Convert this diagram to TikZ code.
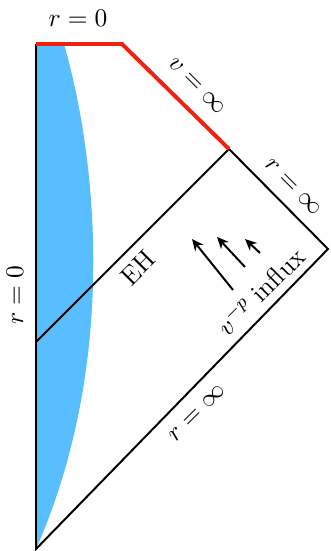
\documentclass[tikz,border=0pt]{standalone}
\usetikzlibrary{arrows.meta}
\definecolor{skyb}{RGB}{88,190,255}
\definecolor{redl}{RGB}{238,34,17}
\begin{document}
\begin{tikzpicture}[x=0.43pt,y=-0.43pt,
  bline/.style={black,line width=0.85pt},
  rline/.style={redl,line width=1.7pt},
  lbl/.style={inner sep=1pt,font=\fontsize{11.3pt}{13pt}\selectfont},
  flux/.style={black,line width=0.85pt,-{Stealth[length=5pt,width=4.5pt]}}]
\useasboundingbox (0,0) rectangle (330,551);
\coordinate (A) at (36,44);
\coordinate (B) at (122,44);
\coordinate (C) at (229,149);
\coordinate (R) at (328,249);
\coordinate (D) at (36,549);
\coordinate (E) at (36,342);
\fill[skyb] (A) -- (64,44) .. controls (100,170) and (115,370) .. (D) -- cycle;
\draw[bline] (A) -- (D) -- (R) -- (C);
\draw[bline] (E) -- (C);
\draw[rline,line join=miter] (A) -- (B) -- (C);
\node[lbl] (t1) at (78,18) {$r=0$};
\node[lbl,rotate=-45] (t2) at (197,86) {$v=\infty$};
\node[lbl,rotate=-45] (t3) at (293,187) {$r=\infty$};
\node[lbl,rotate=90] (t4) at (15,295) {$r=0$};
\node[lbl,rotate=45] (t5) at (138,268) {EH};
\node[lbl,rotate=45] (t6) at (260,291) {$v^{-p}$ influx};
\node[lbl,rotate=45] (t7) at (197,413) {$r=\infty$};
\coordinate (a1s) at (233,290); \coordinate (a1e) at (192,239);
\coordinate (a2s) at (245,267); \coordinate (a2e) at (217,237);
\coordinate (a3s) at (260,253); \coordinate (a3e) at (245,239);
\draw[flux] (a1s) -- (a1e);
\draw[flux] (a2s) -- (a2e);
\draw[flux] (a3s) -- (a3e);
\end{tikzpicture}
\end{document}
